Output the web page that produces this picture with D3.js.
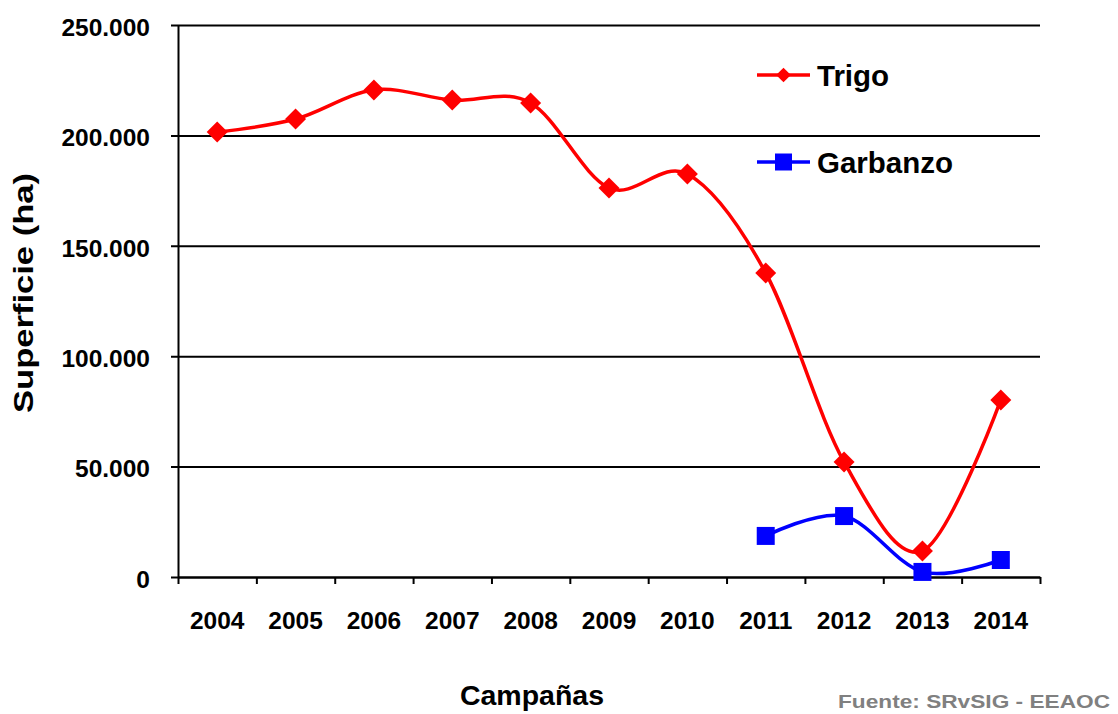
<!DOCTYPE html>
<html>
<head>
<meta charset="utf-8">
<script src="https://cdn.jsdelivr.net/npm/d3@7"></script>
<style>
  body { margin: 0; background: #fff; }
  svg { display: block; font-family: "Liberation Sans", Arial, sans-serif; font-weight: bold; }
</style>
</head>
<body>
<script>
var years = ['2004','2005','2006','2007','2008','2009','2010','2011','2012','2013','2014'];
var trigo = [201500, 207400, 220600, 216000, 214700, 176200, 182500, 137700, 52100, 11800, 80200];
var garbanzo = [null, null, null, null, null, null, null, 18600, 27600, 2300, 7700];
var yTicks = [0, 50000, 100000, 150000, 200000, 250000];
var seriesNames = ['Trigo', 'Garbanzo'];

buildPlot();

/* ===== BUILD PLOT ===== */

function buildPlot() {
  var w = 1118;
  var h = 714;
  var left = 178, right = 1040, top = 25, bottom = 577;

  var svg = d3.select('body')
    .append('svg')
    .attr('width', w)
    .attr('height', h);

  /* ===== scales ===== */

  var xScale = d3.scaleBand()
    .domain(years)
    .range([left, right]);

  var edgeScale = d3.scaleLinear()
    .domain([0, years.length])
    .range([left, right]);

  var yScale = d3.scaleLinear()
    .domain([0, 250000])
    .range([bottom, top]);

  var dotFormat = function(v) {
    return d3.format(',')(v).replace(/,/g, '.');
  };

  /* ===== grid ===== */

  var grid = svg.append('g')
    .attr('transform', 'translate(' + right + ',0)')
    .call(d3.axisLeft(yScale).tickValues(yTicks).tickSize(right - left + 7).tickFormat(''));
  grid.select('.domain').remove();
  grid.selectAll('line').attr('stroke', '#000').attr('stroke-width', 2);

  /* ===== y axis ===== */

  var yAxisG = svg.append('g')
    .attr('transform', 'translate(' + left + ',0)')
    .call(d3.axisLeft(yScale).tickValues(yTicks).tickSize(0).tickSizeOuter(0).tickPadding(28).tickFormat(dotFormat));
  yAxisG.select('.domain').attr('stroke', '#000').attr('stroke-width', 2);
  yAxisG.selectAll('text')
    .attr('dy', '0.42em')
    .style('font-size', '24.5px')
    .attr('fill', '#000');

  /* ===== x axis ===== */

  var xTickG = svg.append('g')
    .attr('transform', 'translate(0,' + bottom + ')')
    .call(d3.axisBottom(edgeScale).tickValues(d3.range(years.length + 1)).tickSize(7).tickSizeOuter(0).tickFormat(''));
  xTickG.select('.domain').attr('stroke', '#000').attr('stroke-width', 2);
  xTickG.selectAll('line').attr('stroke', '#000').attr('stroke-width', 2);

  var xLabelG = svg.append('g')
    .attr('transform', 'translate(0,' + bottom + ')')
    .call(d3.axisBottom(xScale).tickSize(0).tickPadding(35));
  xLabelG.select('.domain').remove();
  xLabelG.selectAll('text')
    .style('font-size', '24.5px')
    .attr('fill', '#000');

  /* ===== lines ===== */

  var line = d3.line()
    .defined(function(d) { return d != null; })
    .x(function(d, i) { return xScale(years[i]) + xScale.bandwidth() / 2; })
    .y(function(d) { return yScale(d); })
    .curve(d3.curveCardinal.tension(0));

  svg.append('path')
    .datum(trigo)
    .attr('d', line)
    .attr('fill', 'none')
    .attr('stroke', '#ff0000')
    .attr('stroke-width', 3.5);

  svg.append('path')
    .datum(garbanzo)
    .attr('d', line)
    .attr('fill', 'none')
    .attr('stroke', '#0000ff')
    .attr('stroke-width', 3.5);

  /* ===== markers ===== */

  var diamond = d3.symbol(d3.symbolSquare, 220);
  var square = d3.symbol(d3.symbolSquare, 324);

  svg.selectAll('.trigoDot')
    .data(trigo)
    .enter()
    .append('path')
    .attr('class', 'trigoDot')
    .attr('d', diamond)
    .attr('fill', '#ff0000')
    .attr('transform', function(d, i) {
      return 'translate(' + (xScale(years[i]) + xScale.bandwidth() / 2) + ',' + yScale(d) + ') rotate(45)';
    });

  svg.selectAll('.garbDot')
    .data(garbanzo.map(function(d, i) { return {v: d, i: i}; }).filter(function(d) { return d.v != null; }))
    .enter()
    .append('path')
    .attr('class', 'garbDot')
    .attr('d', square)
    .attr('fill', '#0000ff')
    .attr('transform', function(d) {
      return 'translate(' + (xScale(years[d.i]) + xScale.bandwidth() / 2) + ',' + yScale(d.v) + ')';
    });

  /* ===== legend ===== */

  var legendColors = ['#ff0000', '#0000ff'];
  var legendSymbols = [d3.symbol(d3.symbolSquare, 108), d3.symbol(d3.symbolSquare, 289)];
  var legendRot = [45, 0];
  var legendY = [75, 162];

  var legend = svg.selectAll('.legend')
    .data(seriesNames)
    .enter()
    .append('g')
    .attr('class', 'legend')
    .attr('transform', function(d, i) { return 'translate(757,' + legendY[i] + ')'; });

  legend.append('line')
    .attr('x1', 0).attr('x2', 53)
    .attr('stroke', function(d, i) { return legendColors[i]; })
    .attr('stroke-width', 3.5);

  legend.append('path')
    .attr('d', function(d, i) { return legendSymbols[i](); })
    .attr('fill', function(d, i) { return legendColors[i]; })
    .attr('transform', function(d, i) { return 'translate(26.5,0) rotate(' + legendRot[i] + ')'; });

  legend.append('text')
    .attr('x', 60)
    .attr('dy', '0.36em')
    .style('font-size', '29.5px')
    .text(function(d) { return d; });

  /* ===== titles ===== */

  svg.append('text')
    .attr('transform', 'translate(33,293) rotate(-90)')
    .attr('text-anchor', 'middle')
    .attr('textLength', 240)
    .attr('lengthAdjust', 'spacingAndGlyphs')
    .style('font-size', '27px')
    .text('Superficie (ha)');

  svg.append('text')
    .attr('x', 532)
    .attr('y', 705)
    .attr('text-anchor', 'middle')
    .style('font-size', '28.5px')
    .text('Campañas');

  svg.append('text')
    .attr('x', 1110)
    .attr('y', 708)
    .attr('text-anchor', 'end')
    .attr('fill', '#808080')
    .attr('textLength', 272)
    .attr('lengthAdjust', 'spacingAndGlyphs')
    .style('font-size', '19px')
    .text('Fuente: SRvSIG - EEAOC');
}
</script>
</body>
</html>
